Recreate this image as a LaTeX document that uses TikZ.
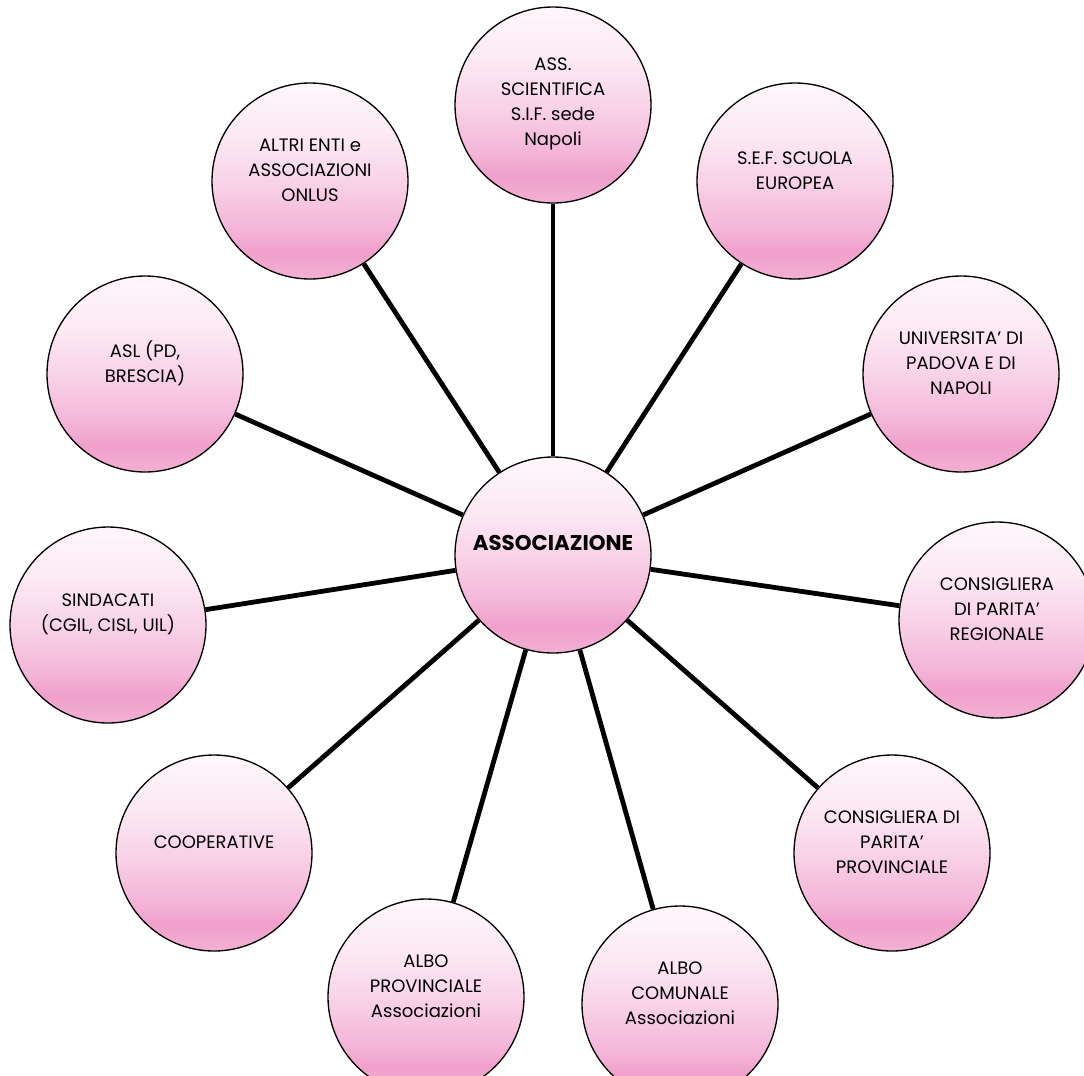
\documentclass[tikz,border=0pt]{standalone}
\usepackage{fontspec}
\setmainfont{Poppins}
\usepackage{tikz}
\usetikzlibrary{positioning, calc, shapes}

\definecolor{pkTop}{HTML}{FFF6FB}
\definecolor{pkUp}{HTML}{FCEAF4}
\definecolor{pkMid}{HTML}{F8D3E8}
\definecolor{pkLow}{HTML}{F4B6D9}
\definecolor{pkDeep}{HTML}{F0A0CB}
\definecolor{pkBot}{HTML}{F3B0D4}
\pgfdeclareverticalshading{pinkfade}{100bp}{color(0bp)=(pkBot); color(25bp)=(pkBot);
  color(32bp)=(pkDeep); color(38bp)=(pkLow); color(50bp)=(pkMid); color(62bp)=(pkUp);
  color(75bp)=(pkTop); color(100bp)=(pkTop)}

\tikzset{
  bubble/.style = {circle, draw, line width=1pt, shading=pinkfade, minimum size=147pt, inner sep=0pt},
  txt/.style = {align=center, inner sep=0pt, yshift=8pt, font=\fontsize{13.5}{18.8}\selectfont},
  link/.style = {line width=3.6pt}
}

\begin{document}
\begin{tikzpicture}[x=0.75pt, y=-0.75pt]
\useasboundingbox (0,0) rectangle (1084,1075);
% centre
\node[bubble, label={[txt, yshift=1pt, font=\fontsize{16}{19}\selectfont\bfseries]center:ASSOCIAZIONE}] (assoc) at (553,555) {};
% partner circles
\node[bubble, label={[txt, yshift=-7pt]center:{ASS.\\SCIENTIFICA\\S.I.F. sede\\Napoli}}] (sif) at (553,105) {};
\node[bubble, label={[txt]center:{ALTRI ENTI e\\ASSOCIAZIONI\\ONLUS}}] (altri) at (310,181) {};
\node[bubble, label={[txt]center:{S.E.F. SCUOLA\\EUROPEA}}] (sef) at (795,181) {};
\node[bubble, label={[txt]center:{ASL (PD,\\BRESCIA)}}] (asl) at (145,374) {};
\node[bubble, label={[txt]center:{UNIVERSITA' DI\\PADOVA E DI\\NAPOLI}}] (univ) at (961,374) {};
\node[bubble, label={[txt]center:{SINDACATI\\(CGIL, CISL, UIL)}}] (sind) at (108,625) {};
\node[bubble, label={[txt]center:{CONSIGLIERA\\DI PARITA'\\REGIONALE}}] (creg) at (997,620) {};
\node[bubble, label={[txt]center:{COOPERATIVE}}] (coop) at (214,853) {};
\node[bubble, label={[txt]center:{CONSIGLIERA DI\\PARITA'\\PROVINCIALE}}] (cprov) at (892,853) {};
\node[bubble, label={[txt]center:{ALBO\\PROVINCIALE\\Associazioni}}] (aprov) at (426,997) {};
\node[bubble, label={[txt]center:{ALBO\\COMUNALE\\Associazioni}}] (acom) at (680,1004) {};
% spokes
\foreach \n in {sif, altri, sef, asl, univ, sind, creg, coop, cprov, aprov, acom}
  \draw[link] (assoc) -- (\n);
\end{tikzpicture}
\end{document}
